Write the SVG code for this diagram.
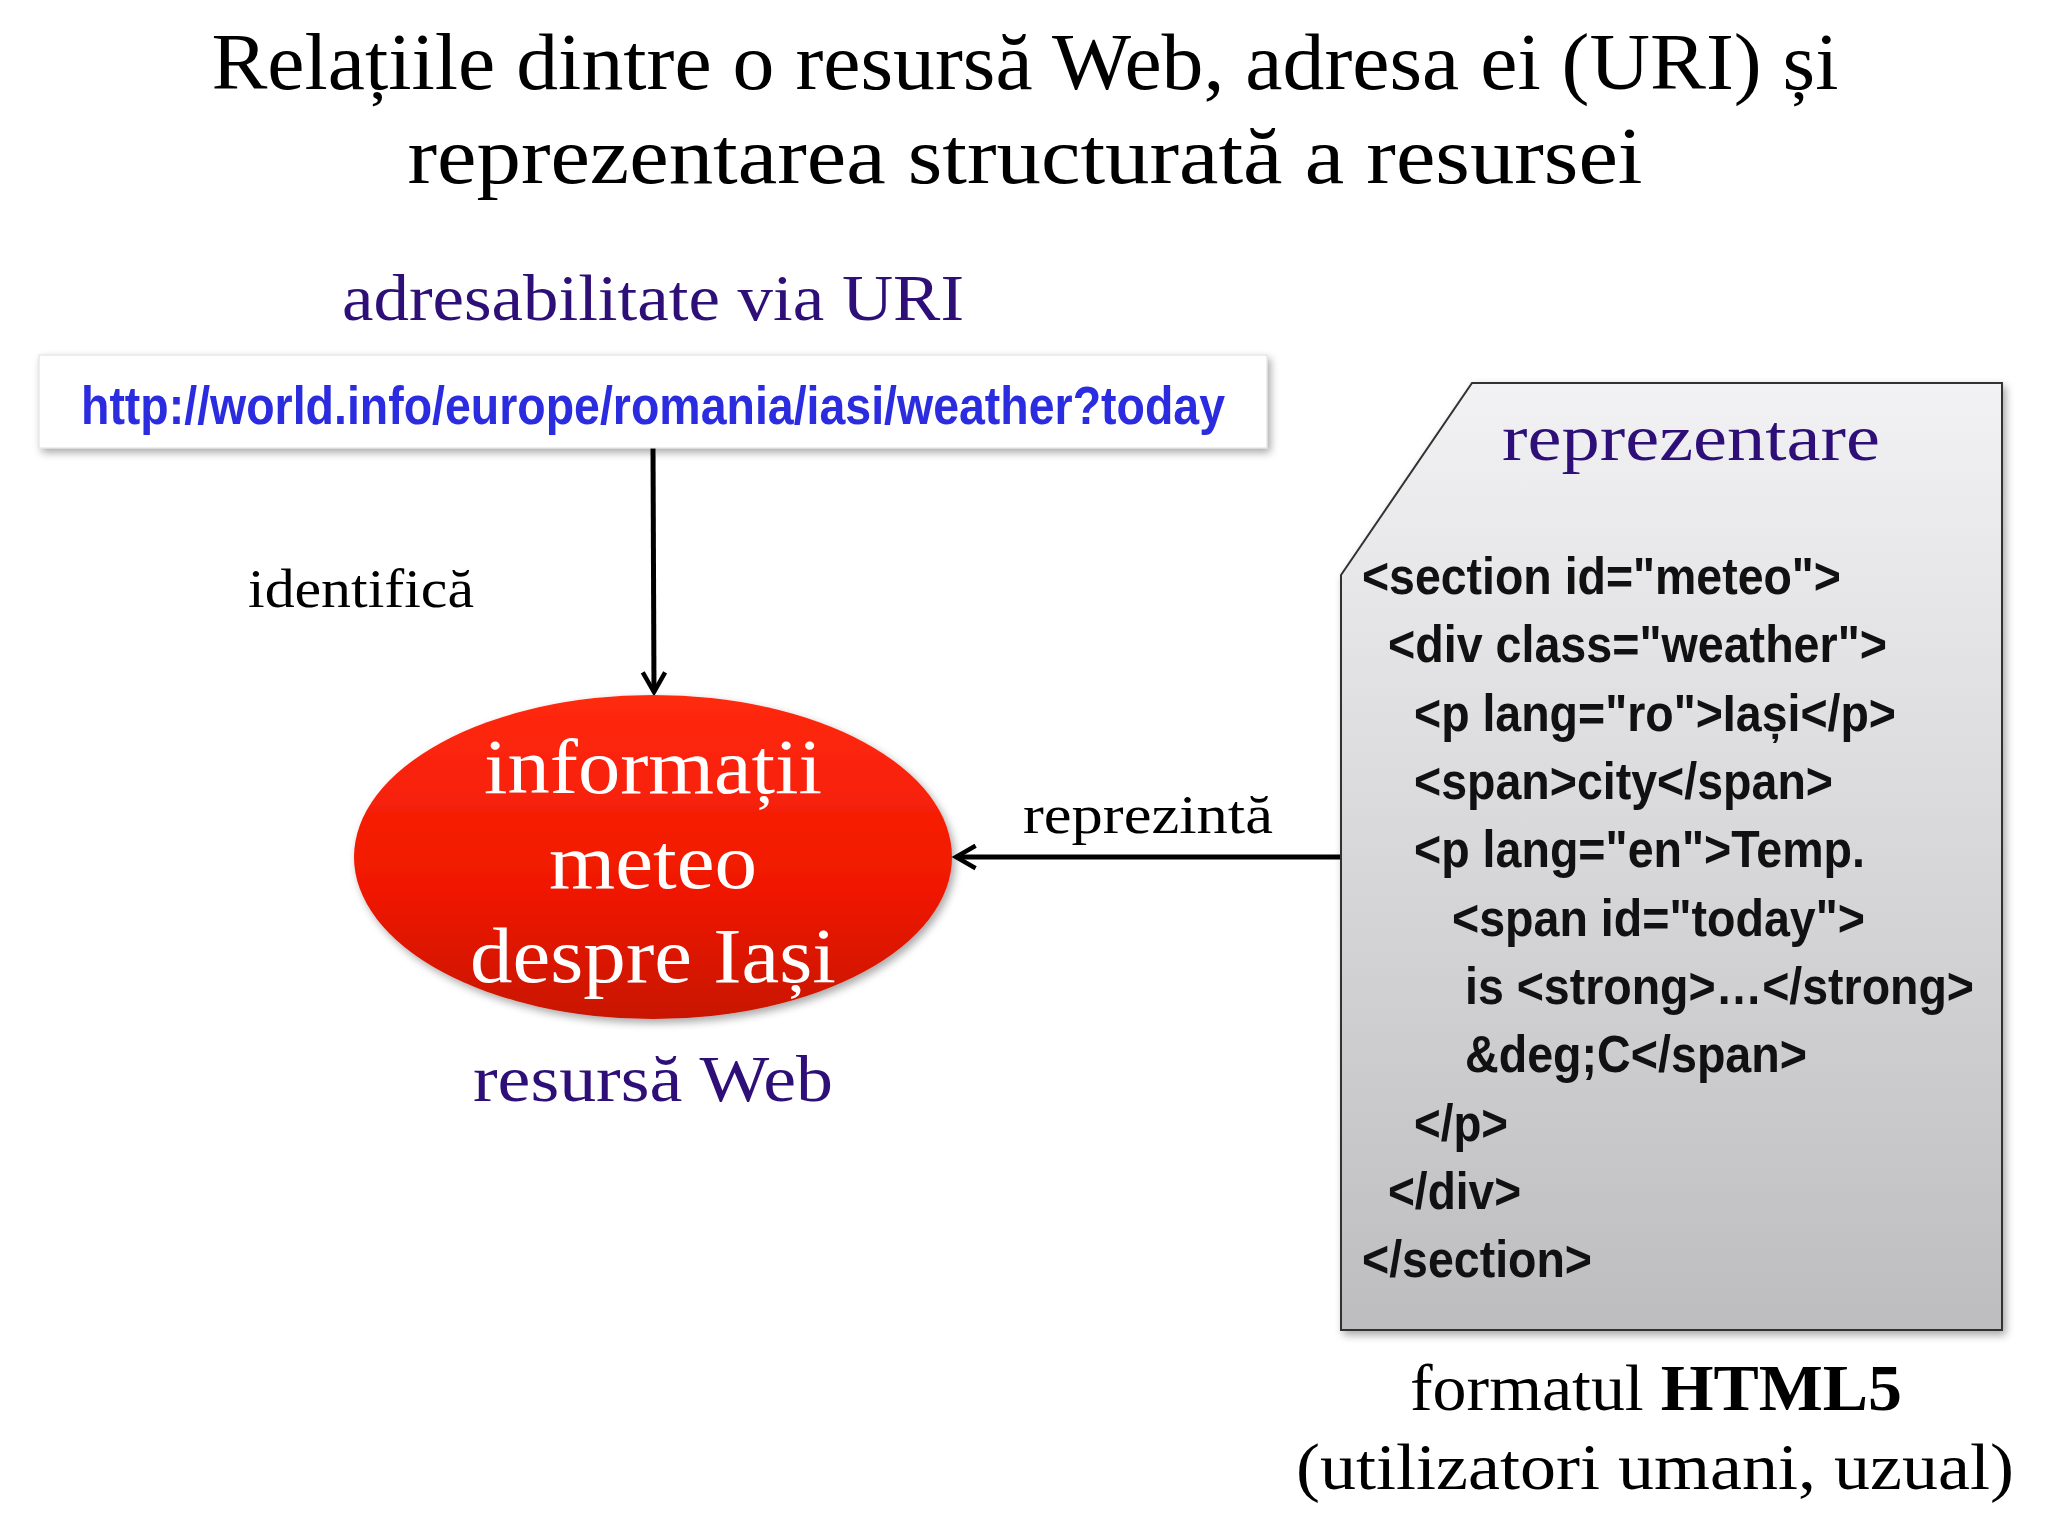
<svg xmlns="http://www.w3.org/2000/svg" width="2048" height="1536" viewBox="0 0 2048 1536">
<style>
.s{font-family:"Liberation Serif","DejaVu Serif",serif}
.b{fill:#2E0F78}
.c{font-family:"Liberation Sans",Arial,sans-serif;font-weight:bold;font-size:52px;fill:#111}
</style>
<defs>
<linearGradient id="red" x1="0" y1="0" x2="0" y2="1"><stop offset="0" stop-color="#FF2A10"/><stop offset="0.6" stop-color="#F01800"/><stop offset="1" stop-color="#C81400"/></linearGradient>
<linearGradient id="gray" x1="0" y1="0" x2="0" y2="1"><stop offset="0" stop-color="#F2F2F4"/><stop offset="1" stop-color="#BDBDC0"/></linearGradient>
<filter id="sh" x="-10%" y="-10%" width="130%" height="130%"><feGaussianBlur in="SourceAlpha" stdDeviation="4"/><feOffset dx="3" dy="4"/><feComponentTransfer><feFuncA type="linear" slope="0.35"/></feComponentTransfer><feMerge><feMergeNode/><feMergeNode in="SourceGraphic"/></feMerge></filter>
<marker id="a2" viewBox="0 0 20 20" markerWidth="28" markerHeight="28" refX="17" refY="10" orient="auto" markerUnits="userSpaceOnUse"><path d="M3,2 L17,10 L3,18" fill="none" stroke="#000" stroke-width="3.2"/></marker>
</defs>
<rect width="2048" height="1536" fill="#FFFFFF"/>
<text class="s" x="1025" y="89" font-size="80" text-anchor="middle" textLength="1627" lengthAdjust="spacingAndGlyphs" fill="#000">Relațiile dintre o resursă Web, adresa ei (URI) și</text>
<text class="s" x="1025" y="183" font-size="80" text-anchor="middle" textLength="1235" lengthAdjust="spacingAndGlyphs" fill="#000">reprezentarea structurată a resursei</text>
<g id="connectors" stroke="#000" stroke-width="5" fill="none">
<line x1="653" y1="448" x2="654" y2="692" marker-end="url(#a2)"/>
<line x1="1341" y1="857" x2="956" y2="857" marker-end="url(#a2)"/>
</g>
<text class="s" x="361" y="607" font-size="54" text-anchor="middle" textLength="226" lengthAdjust="spacingAndGlyphs" fill="#000">identifică</text>
<text class="s" x="1148" y="833" font-size="54" text-anchor="middle" textLength="250" lengthAdjust="spacingAndGlyphs" fill="#000">reprezintă</text>
<g id="uri">
<text class="s b" x="653" y="320" font-size="66" text-anchor="middle" textLength="622" lengthAdjust="spacingAndGlyphs">adresabilitate via URI</text>
<rect x="39" y="355" width="1228" height="93" fill="#FFFFFF" stroke="#DDD" stroke-width="1" filter="url(#sh)"/>
<text x="81" y="424" font-family="Liberation Sans,Arial,sans-serif" font-weight="bold" font-size="54" fill="#2B2BE0" textLength="1144" lengthAdjust="spacingAndGlyphs">http://world.info/europe/romania/iasi/weather?today</text>
</g>
<g id="resource">
<ellipse cx="653" cy="857" rx="299" ry="162" fill="url(#red)" filter="url(#sh)"/>
<g class="s" font-size="78" fill="#FFFFFF" text-anchor="middle">
<text x="653" y="793" textLength="338" lengthAdjust="spacingAndGlyphs">informații</text>
<text x="653" y="888" textLength="208" lengthAdjust="spacingAndGlyphs">meteo</text>
<text x="653" y="982" textLength="366" lengthAdjust="spacingAndGlyphs">despre Iași</text>
</g>
<text class="s b" x="653" y="1101" font-size="66" text-anchor="middle" textLength="360" lengthAdjust="spacingAndGlyphs">resursă Web</text>
</g>
<g id="representation">
<polygon points="1341,575 1472,383 2002,383 2002,1330 1341,1330" fill="url(#gray)" stroke="#333" stroke-width="2" filter="url(#sh)"/>
<text class="s b" x="1691" y="460" font-size="66" text-anchor="middle" textLength="378" lengthAdjust="spacingAndGlyphs">reprezentare</text>
<g class="c">
<text x="1362" y="594" textLength="479" lengthAdjust="spacingAndGlyphs">&lt;section id="meteo"&gt;</text>
<text x="1388" y="662" textLength="499" lengthAdjust="spacingAndGlyphs">&lt;div class="weather"&gt;</text>
<text x="1414" y="731" textLength="482" lengthAdjust="spacingAndGlyphs">&lt;p lang="ro"&gt;Iași&lt;/p&gt;</text>
<text x="1414" y="799" textLength="419" lengthAdjust="spacingAndGlyphs">&lt;span&gt;city&lt;/span&gt;</text>
<text x="1414" y="867" textLength="451" lengthAdjust="spacingAndGlyphs">&lt;p lang="en"&gt;Temp.</text>
<text x="1452" y="936" textLength="413" lengthAdjust="spacingAndGlyphs">&lt;span id="today"&gt;</text>
<text x="1465" y="1004" textLength="509" lengthAdjust="spacingAndGlyphs">is &lt;strong&gt;…&lt;/strong&gt;</text>
<text x="1465" y="1072" textLength="342" lengthAdjust="spacingAndGlyphs">&amp;deg;C&lt;/span&gt;</text>
<text x="1414" y="1141" textLength="94" lengthAdjust="spacingAndGlyphs">&lt;/p&gt;</text>
<text x="1388" y="1209" textLength="133" lengthAdjust="spacingAndGlyphs">&lt;/div&gt;</text>
<text x="1362" y="1277" textLength="230" lengthAdjust="spacingAndGlyphs">&lt;/section&gt;</text>
</g>
<text class="s" x="1656" y="1410" font-size="66" text-anchor="middle" textLength="492" lengthAdjust="spacingAndGlyphs" fill="#000">formatul <tspan font-weight="bold">HTML5</tspan></text>
<text class="s" x="1655" y="1489" font-size="66" text-anchor="middle" textLength="718" lengthAdjust="spacingAndGlyphs" fill="#000">(utilizatori umani, uzual)</text>
</g>
</svg>
